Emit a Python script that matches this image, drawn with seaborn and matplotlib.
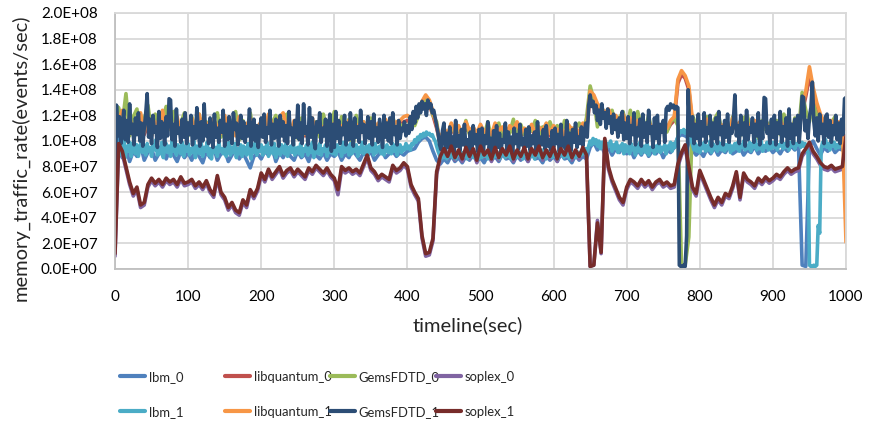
import numpy as np
import pandas as pd
import matplotlib
matplotlib.use("Agg")
import matplotlib.pyplot as plt
from matplotlib.lines import Line2D
from matplotlib.ticker import FuncFormatter
from matplotlib import font_manager
import seaborn as sns

# ---------------- data (values in units of 1e7 events/sec) ----------------
unit = 1e7
time_5s = list(range(0, 1001, 5))   # sampling of most series
time_2s = list(range(0, 1001, 2))   # finer sampling of the two dominant bands

series_names = ["lbm_0", "libquantum_0", "GemsFDTD_0", "soplex_0",
                "lbm_1", "libquantum_1", "GemsFDTD_1", "soplex_1"]
series_colors = ["#4F81BD", "#C0504D", "#9BBB59", "#8064A2",
                 "#4BACC6", "#F79646", "#2C4D75", "#772C2A"]

lbm_0 = [
    12.6, 9.3, 8.7, 9.5, 8.4, 9.2, 8.8, 9.7, 8.5, 9.1, 9.4, 8.5, 9.0, 9.6, 8.6, 9.3, 8.9, 8.4, 9.2, 8.7,
    9.1, 8.5, 9.4, 8.8, 8.3, 9.2, 8.7, 9.5, 8.5, 9.0, 9.3, 8.4, 8.9, 9.4, 8.6, 9.1, 8.5, 7.9, 8.8, 9.0,
    8.6, 9.2, 8.9, 9.5, 8.4, 9.1, 8.7, 9.3, 8.8, 8.5, 9.2, 8.7, 9.0, 8.4, 9.3, 8.9, 8.6, 9.1, 8.5, 9.0,
    8.8, 9.2, 8.5, 9.0, 8.7, 9.3, 8.9, 8.5, 9.1, 8.8, 9.2, 8.5, 8.9, 9.3, 8.7, 9.0, 9.2, 8.8, 9.1, 8.9,
    9.2, 9.3, 9.4, 9.9, 10.2, 10.3, 10.0, 9.2, 8.5, 8.2, 8.6, 8.3, 8.9, 8.4, 8.7, 8.3, 8.8, 8.5, 9.0, 8.4,
    8.7, 8.3, 8.9, 8.5, 8.8, 8.4, 9.0, 8.6, 8.7, 8.3, 8.9, 8.5, 8.8, 8.4, 9.0, 8.6, 8.7, 8.3, 8.9, 8.5,
    8.8, 8.4, 9.0, 8.6, 8.7, 8.3, 8.9, 8.5, 8.8, 8.6, 9.5, 9.9, 9.3, 9.7, 9.0, 9.5, 8.9, 9.4, 9.1, 9.6,
    9.0, 9.4, 8.7, 9.3, 8.9, 9.5, 8.8, 9.2, 9.0, 9.4, 8.7, 9.3, 9.1, 9.5, 10.3, 10.5, 10.4, 10.2, 9.3, 8.9,
    9.2, 8.8, 9.4, 9.0, 9.5, 8.9, 9.3, 9.1, 9.6, 9.0, 9.2, 9.5, 8.9, 9.3, 9.1, 9.6, 9.0, 9.4, 9.2, 9.5,
    9.1, 9.4, 9.0, 9.5, 9.2, 9.6, 9.3, 9.7, 0.3, 0.2, 9.6, 10.0, 9.4, 8.9, 9.5, 9.2, 9.6, 9.1, 9.4, 9.3,
    9.9]

libquantum_0 = [
    11.5, 11.2, 11.8, 10.6, 11.4, 10.9, 11.0, 11.7, 10.5, 11.3, 10.8, 11.1, 10.6, 11.6, 10.9, 11.0, 10.7, 11.4, 10.6, 11.2,
    10.8, 11.4, 10.5, 11.6, 10.7, 11.2, 10.4, 11.3, 10.9, 10.6, 11.5, 10.7, 11.1, 10.5, 11.4, 10.6, 11.0, 11.3, 10.4, 10.9,
    11.1, 10.6, 11.5, 11.0, 10.5, 11.3, 11.6, 10.8, 10.6, 11.2, 10.7, 11.1, 10.4, 10.9, 11.4, 10.5, 11.0, 10.7, 11.1, 10.6,
    11.0, 10.6, 10.9, 10.7, 11.2, 10.4, 11.0, 10.6, 11.1, 10.5, 10.8, 10.7, 11.0, 10.3, 11.2, 10.6, 10.9, 11.1, 11.3, 11.5,
    11.6, 11.4, 11.8, 12.1, 12.6, 13.1, 12.8, 12.0, 11.0, 9.8, 10.8, 10.3, 11.0, 10.5, 10.9, 10.2, 11.1, 10.6, 10.8, 10.4,
    10.9, 10.5, 10.8, 10.3, 11.0, 10.6, 10.8, 10.2, 10.9, 10.7, 11.1, 10.4, 10.8, 10.5, 11.0, 10.3, 10.8, 10.6, 11.0, 10.4,
    10.9, 10.6, 10.8, 10.3, 11.0, 10.7, 10.8, 10.4, 11.0, 10.8, 13.5, 13.2, 12.6, 12.3, 11.9, 12.1, 11.5, 11.7, 11.2, 11.8,
    10.9, 11.4, 10.6, 11.3, 10.8, 10.5, 11.2, 10.8, 11.0, 10.6, 11.1, 10.8, 11.3, 11.6, 14.5, 15.2, 14.9, 14.0, 11.3, 10.8,
    11.1, 10.6, 11.4, 10.9, 10.7, 11.3, 10.8, 11.2, 10.5, 11.5, 10.9, 11.2, 10.7, 11.1, 10.9, 11.3, 10.6, 11.0, 11.2, 10.8,
    11.0, 10.7, 11.3, 10.9, 11.1, 10.6, 11.2, 10.9, 12.2, 13.5, 15.0, 13.8, 12.6, 11.8, 11.1, 10.8, 11.3, 10.9, 11.2, 10.8,
    11.0]

GemsFDTD_0 = [
    12.8, 12.6, 11.4, 13.7, 10.4, 11.9, 12.5, 10.5, 11.7, 12.8, 10.8, 12.1, 10.2, 11.6, 12.7, 10.9, 12.3, 10.6, 11.4, 12.2,
    10.4, 11.9, 10.9, 12.1, 10.2, 11.5, 10.6, 11.8, 12.2, 10.3, 11.7, 10.8, 11.4, 12.3, 10.1, 11.6, 10.7, 12.2, 10.5, 11.2,
    10.6, 11.9, 10.8, 11.4, 12.0, 10.5, 11.6, 12.1, 10.7, 11.3, 10.2, 11.8, 10.6, 11.2, 10.4, 11.5, 10.3, 12.1, 10.9, 11.0,
    12.3, 10.4, 11.9, 10.6, 11.7, 9.2, 12.0, 10.9, 11.5, 10.3, 11.8, 10.7, 11.2, 10.1, 11.6, 10.5, 11.9, 10.8, 11.3, 11.0,
    10.8, 11.9, 11.2, 12.0, 12.8, 13.3, 13.1, 12.0, 11.5, 9.6, 10.9, 10.4, 11.3, 10.6, 11.1, 10.2, 11.6, 10.5, 11.0, 10.3,
    11.2, 10.4, 11.5, 10.2, 10.9, 11.4, 10.3, 11.0, 10.6, 11.7, 10.1, 11.3, 10.5, 11.0, 10.8, 11.6, 10.2, 11.1, 10.4, 11.5,
    10.7, 11.2, 10.3, 11.6, 10.5, 11.0, 10.9, 11.4, 10.6, 11.8, 14.3, 13.2, 11.1, 12.8, 12.0, 11.5, 12.4, 10.9, 11.8, 12.3,
    11.0, 12.4, 10.6, 12.3, 11.2, 10.8, 12.0, 10.5, 11.6, 10.9, 11.4, 10.7, 11.5, 11.8, 11.2, 0.2, 0.3, 2.5, 12.0, 11.2,
    11.3, 10.6, 11.9, 10.4, 11.7, 12.2, 10.8, 11.4, 10.5, 11.9, 11.1, 10.4, 11.8, 12.0, 10.7, 11.3, 10.2, 11.6, 10.9, 11.4,
    10.8, 11.6, 10.5, 12.1, 11.2, 10.4, 11.8, 10.7, 13.8, 12.4, 11.5, 13.0, 12.0, 11.0, 11.7, 10.6, 11.4, 11.9, 10.8, 11.3,
    11.2]

soplex_0 = [
    1.0, 9.6, 9.0, 7.8, 6.6, 5.7, 6.2, 4.8, 5.0, 6.4, 6.9, 6.5, 6.8, 6.4, 6.9, 6.6, 6.8, 6.4, 7.0, 6.5,
    6.6, 6.8, 6.3, 6.6, 6.2, 6.7, 6.0, 5.6, 7.1, 5.8, 5.4, 4.6, 5.0, 4.4, 4.2, 5.2, 4.8, 6.0, 5.5, 6.1,
    7.3, 6.8, 7.6, 7.0, 7.4, 7.8, 7.1, 7.5, 7.7, 7.2, 7.6, 7.3, 7.0, 7.7, 7.4, 7.9, 7.6, 7.3, 7.7, 7.2,
    6.9, 5.8, 7.8, 7.5, 7.7, 7.4, 7.6, 7.3, 8.0, 8.7, 7.7, 7.4, 6.9, 7.2, 7.0, 6.8, 7.9, 7.5, 7.7, 8.1,
    7.8, 6.4, 5.8, 5.3, 2.4, 1.0, 1.1, 2.2, 7.4, 8.6, 9.2, 8.6, 9.4, 8.5, 9.1, 8.4, 9.3, 8.6, 9.2, 8.3,
    9.4, 8.7, 9.1, 8.4, 9.3, 8.5, 9.2, 8.7, 9.4, 8.4, 9.1, 8.6, 9.3, 8.4, 9.2, 8.7, 9.4, 8.5, 9.1, 8.6,
    9.3, 8.4, 9.2, 8.7, 9.4, 8.5, 9.1, 8.6, 9.3, 8.7, 0.2, 0.3, 3.8, 1.2, 10.0, 7.8, 6.8, 6.1, 5.4, 5.0,
    6.2, 6.8, 6.6, 6.3, 6.8, 6.4, 6.7, 6.2, 6.6, 6.8, 6.4, 6.6, 6.3, 6.4, 8.0, 8.9, 9.5, 7.8, 6.2, 5.7,
    7.5, 6.8, 6.1, 5.4, 4.8, 5.4, 5.0, 5.7, 5.5, 6.3, 7.4, 5.4, 7.3, 6.8, 6.6, 6.3, 6.9, 6.6, 7.0, 6.7,
    6.9, 7.2, 7.0, 7.4, 7.7, 7.4, 7.6, 7.7, 8.8, 9.2, 9.7, 9.0, 8.6, 8.1, 7.8, 7.7, 7.9, 7.6, 7.7, 7.8,
    10.2]

lbm_1 = [
    12.8, 10.2, 9.4, 8.9, 9.8, 9.1, 10.0, 8.7, 9.6, 9.2, 9.9, 8.8, 9.5, 10.1, 9.0, 9.7, 8.8, 9.4, 10.0, 9.1, 9.6, 8.9, 9.8, 9.2, 9.5,
    8.8, 9.7, 9.3, 10.1, 8.9, 9.5, 9.0, 9.9, 8.7, 9.4, 9.8, 9.1, 9.6, 8.8, 10.0, 9.2, 9.5, 8.9, 9.7, 9.3, 9.0, 9.9, 8.8, 9.6, 9.2,
    9.8, 8.9, 9.4, 9.1, 10.0, 8.7, 9.6, 9.3, 9.0, 9.8, 8.8, 9.5, 9.2, 9.9, 8.9, 9.4, 8.6, 9.7, 9.1, 9.5, 8.8, 9.9, 9.2, 9.4, 9.0,
    9.6, 8.8, 9.3, 9.9, 8.9, 9.5, 9.1, 9.8, 8.7, 9.4, 9.0, 9.7, 8.8, 9.6, 9.2, 8.9, 9.8, 9.3, 8.6, 9.5, 9.1, 9.9, 8.9, 9.4, 9.2,
    9.7, 8.9, 9.5, 9.1, 9.9, 8.8, 9.4, 9.6, 9.0, 9.8, 8.7, 9.3, 9.5, 8.9, 9.7, 9.2, 9.0, 9.8, 8.8, 9.4, 9.6, 9.1, 9.9, 8.9, 9.3,
    9.5, 9.0, 9.8, 8.8, 9.4, 9.2, 9.7, 8.9, 9.5, 9.1, 9.9, 8.7, 9.3, 9.6, 9.0, 9.8, 8.9, 9.4, 9.2, 9.7, 8.8, 9.5, 9.1, 9.8, 9.0,
    9.4, 8.9, 9.7, 9.2, 9.5, 8.8, 9.9, 9.1, 9.3, 9.6, 8.9, 9.8, 9.0, 9.4, 9.2, 9.7, 8.8, 9.5, 9.1, 9.9, 9.0, 9.3, 9.6, 8.9, 9.7,
    9.2, 9.5, 8.9, 9.8, 9.1, 9.4, 9.6, 9.0, 9.9, 8.9, 9.3, 9.7, 9.1, 9.5, 9.0, 9.8, 9.2, 9.6, 8.9, 9.4, 9.7, 9.1, 9.5, 9.3, 9.8,
    9.4, 9.6, 9.3, 9.8, 9.7, 10.1, 9.9, 10.3, 10.1, 10.5, 10.3, 10.6, 10.4, 10.7, 10.5, 10.6, 10.4, 10.5, 10.2, 10.0, 9.6, 9.2, 8.9, 8.6, 8.9,
    8.7, 9.2, 8.6, 9.0, 8.8, 9.3, 8.7, 9.1, 8.6, 9.0, 8.9, 9.3, 8.7, 9.1, 8.8, 9.2, 8.6, 9.0, 8.9, 9.3, 8.7, 9.1, 8.8, 9.2, 8.6,
    9.0, 8.7, 9.3, 8.8, 9.1, 8.6, 9.2, 8.9, 9.0, 8.7, 9.3, 8.8, 9.1, 8.6, 9.2, 8.9, 9.0, 8.7, 9.3, 8.8, 9.1, 8.6, 9.2, 8.9, 9.0,
    8.7, 9.3, 8.8, 9.1, 8.6, 9.2, 8.9, 9.0, 8.7, 9.3, 8.8, 9.1, 8.6, 9.2, 8.9, 9.0, 8.7, 9.3, 8.8, 9.1, 8.6, 9.2, 8.9, 9.0, 8.7,
    9.2, 8.8, 9.1, 8.6, 9.3, 8.9, 9.0, 8.7, 9.2, 8.8, 9.1, 8.6, 9.3, 8.9, 9.0, 8.7, 9.2, 8.8, 9.1, 8.9, 9.3, 9.0, 9.4, 9.2, 9.6,
    10.0, 9.7, 10.2, 9.8, 10.1, 9.6, 10.0, 9.4, 9.9, 9.5, 10.1, 9.3, 9.8, 9.6, 10.0, 9.2, 9.7, 9.4, 9.9, 9.1, 9.6, 9.3, 9.8, 9.0, 9.7,
    9.2, 9.6, 9.0, 9.8, 9.3, 9.5, 8.9, 9.7, 9.2, 9.9, 9.0, 9.4, 9.6, 9.1, 9.8, 8.9, 9.5, 9.3, 9.7, 9.0, 9.6, 9.2, 9.9, 9.1, 9.5,
    9.3, 9.7, 9.0, 9.6, 9.4, 9.9, 9.2, 9.8, 9.5, 10.0, 10.3, 10.6, 10.8, 10.7, 10.9, 10.6, 10.8, 10.7, 10.4, 10.1, 9.7, 9.3, 9.8, 9.2, 9.6,
    9.1, 9.7, 9.4, 9.9, 9.2, 9.6, 9.3, 10.0, 9.1, 9.8, 9.4, 9.6, 9.2, 9.9, 9.5, 9.3, 10.1, 9.2, 9.7, 9.4, 9.9, 9.1, 9.6, 9.3, 9.8,
    9.4, 9.9, 9.2, 9.7, 9.5, 10.0, 9.3, 9.6, 9.4, 9.9, 9.2, 9.8, 9.5, 10.1, 9.3, 9.7, 9.4, 10.0, 9.2, 9.6, 9.5, 9.9, 9.3, 9.8, 9.4,
    9.9, 9.5, 10.0, 9.3, 9.7, 9.6, 10.1, 9.4, 9.8, 9.5, 10.0, 9.3, 9.9, 9.6, 10.2, 9.4, 9.8, 9.7, 10.0, 9.5, 9.9, 9.6, 9.8, 9.4, 9.1,
    0.3, 0.2, 0.2, 0.3, 0.2, 0.3, 3.4, 2.8, 9.4, 9.9, 9.6, 10.1, 9.5, 9.8, 9.3, 10.0, 9.6, 9.9, 9.4, 9.7, 9.5, 10.1, 9.6, 9.8, 9.4,
    10.2]

libquantum_1 = [
    12.0, 11.6, 12.4, 10.8, 11.9, 10.5, 11.3, 12.2, 10.7, 11.8, 10.4, 11.5, 10.9, 12.4, 10.6, 11.2, 10.8, 11.9, 10.5, 11.4,
    11.0, 11.8, 10.6, 12.1, 10.9, 11.4, 10.3, 11.7, 11.1, 10.6, 12.0, 10.8, 11.5, 10.4, 11.9, 10.7, 11.2, 11.8, 10.5, 11.1,
    11.5, 10.8, 12.1, 11.3, 10.6, 11.8, 12.2, 11.0, 10.7, 11.6, 10.9, 11.4, 10.5, 11.2, 11.8, 10.6, 11.3, 10.9, 11.5, 10.8,
    11.4, 10.7, 11.2, 10.9, 11.6, 10.5, 11.3, 10.8, 11.5, 10.6, 11.1, 10.9, 11.4, 10.4, 11.7, 10.8, 11.2, 11.5, 11.6, 11.9,
    12.0, 11.7, 12.2, 12.5, 13.1, 13.6, 13.2, 12.3, 11.2, 10.0, 11.0, 10.5, 11.4, 10.7, 11.2, 10.4, 11.5, 10.8, 11.1, 10.6,
    11.3, 10.7, 11.0, 10.5, 11.4, 10.8, 11.1, 10.4, 11.2, 10.9, 11.5, 10.6, 11.0, 10.7, 11.3, 10.5, 11.1, 10.8, 11.4, 10.6,
    11.2, 10.8, 11.0, 10.5, 11.3, 10.9, 11.1, 10.6, 11.4, 11.0, 13.9, 13.6, 12.9, 12.6, 12.2, 12.5, 11.8, 12.0, 11.5, 12.1,
    11.2, 11.8, 10.9, 11.6, 11.1, 10.7, 11.5, 11.0, 11.3, 10.8, 11.4, 11.0, 11.6, 11.9, 14.8, 15.5, 15.1, 14.3, 11.6, 11.0,
    11.4, 10.8, 11.7, 11.2, 10.9, 11.6, 11.0, 11.5, 10.7, 11.8, 11.2, 11.5, 10.9, 11.4, 11.1, 11.6, 10.8, 11.3, 11.5, 11.0,
    11.3, 10.9, 11.6, 11.1, 11.4, 10.8, 11.5, 11.2, 12.5, 13.9, 15.8, 14.2, 13.0, 12.1, 11.4, 11.0, 11.6, 11.2, 11.5, 11.1,
    2.1]

GemsFDTD_1 = [
    2.6, 12.8, 10.4, 11.9, 9.8, 11.2, 12.4, 10.1, 11.6, 9.9, 12.9, 10.6, 11.3, 9.7, 11.8, 10.5, 12.2, 10.0, 11.4, 9.6, 11.0, 12.1, 13.7, 10.3, 11.7,
    9.8, 12.0, 10.7, 11.1, 9.5, 12.3, 10.2, 11.5, 10.8, 9.7, 11.9, 10.4, 13.3, 13.2, 10.1, 11.3, 9.6, 12.5, 10.6, 11.0, 9.9, 11.7, 10.3, 12.2, 9.8,
    11.4, 10.5, 12.0, 9.7, 11.1, 10.2, 12.6, 10.8, 9.6, 11.5, 10.0, 12.9, 10.4, 11.2, 9.8, 11.8, 10.6, 9.5, 12.1, 10.3, 11.0, 9.9, 11.6, 10.7, 12.4,
    9.6, 11.3, 10.1, 11.9, 10.5, 9.8, 12.2, 10.9, 11.4, 9.7, 10.6, 12.0, 10.2, 11.5, 9.9, 11.1, 10.4, 12.5, 9.6, 10.8, 11.7, 10.0, 11.2, 9.5, 10.9,
    11.8, 10.3, 12.1, 9.9, 11.0, 10.6, 12.4, 9.7, 11.3, 10.2, 11.7, 10.8, 9.6, 12.0, 10.4, 11.5, 10.0, 11.2, 9.8, 12.3, 10.5, 11.0, 9.7, 11.6, 10.3,
    12.8, 10.1, 11.4, 9.8, 12.9, 10.6, 11.1, 9.7, 12.6, 10.3, 11.8, 10.0, 9.4, 11.5, 10.7, 12.2, 9.9, 11.0, 10.4, 11.7, 9.6, 10.9, 12.1, 9.2, 11.3,
    9.5, 12.3, 10.2, 11.6, 9.8, 11.0, 10.5, 12.0, 9.7, 11.4, 10.1, 12.2, 10.6, 9.6, 11.8, 10.3, 11.1, 9.9, 12.4, 10.7, 11.3, 9.8, 10.6, 11.9, 10.2,
    11.5, 9.7, 12.1, 10.4, 11.0, 9.9, 11.7, 10.6, 9.5, 12.0, 10.3, 11.4, 10.0, 11.8, 9.8, 12.2, 10.5, 11.1, 9.7, 11.6, 10.2, 11.0, 10.8, 11.5, 10.4,
    11.2, 10.6, 11.9, 10.9, 12.3, 11.4, 12.7, 11.8, 12.9, 12.2, 13.1, 12.5, 12.9, 12.0, 13.2, 12.6, 12.9, 12.2, 12.4, 11.8, 11.2, 10.6, 9.7, 9.3, 10.8,
    11.4, 9.2, 10.6, 9.5, 11.1, 9.8, 10.3, 9.1, 11.6, 9.6, 10.4, 9.3, 10.9, 9.7, 11.3, 9.4, 10.1, 9.0, 10.7, 9.5, 11.2, 9.8, 10.5, 9.2, 10.9,
    9.6, 11.0, 9.3, 10.4, 9.8, 11.5, 9.4, 10.2, 9.1, 10.8, 9.7, 11.2, 9.5, 10.6, 9.2, 10.1, 9.9, 11.4, 9.3, 10.7, 9.6, 10.3, 9.0, 11.0, 9.8,
    10.5, 9.4, 11.3, 9.7, 10.2, 9.2, 10.9, 9.6, 11.1, 9.3, 10.4, 9.8, 10.7, 9.1, 11.5, 9.5, 10.3, 9.7, 10.9, 9.4, 11.2, 9.6, 10.1, 9.3, 10.8,
    9.5, 11.0, 9.8, 10.5, 9.2, 11.3, 9.6, 10.2, 9.4, 11.6, 9.7, 10.6, 9.3, 10.9, 9.9, 11.4, 9.5, 10.3, 9.8, 11.1, 9.6, 10.7, 11.4, 10.3, 12.8,
    13.6, 12.7, 13.1, 12.2, 12.8, 11.6, 12.4, 11.3, 12.9, 11.8, 12.2, 11.0, 12.5, 11.4, 11.9, 10.6, 12.1, 10.9, 11.6, 10.3, 11.8, 10.7, 12.3, 10.1, 11.4,
    10.2, 11.9, 9.8, 11.2, 10.5, 12.2, 9.7, 11.0, 10.4, 11.7, 9.6, 12.1, 10.3, 11.4, 9.9, 12.4, 10.6, 11.1, 9.5, 11.8, 10.2, 12.0, 9.8, 11.3, 10.7,
    11.6, 9.9, 12.5, 12.7, 12.4, 12.9, 12.6, 12.8, 12.5, 12.7, 12.6, 0.3, 0.2, 0.2, 0.3, 0.2, 2.6, 14.0, 11.2, 10.4, 11.9, 9.8, 11.3, 10.2, 12.1,
    9.7, 11.5, 10.4, 12.2, 9.9, 11.0, 10.6, 12.0, 9.6, 11.4, 10.2, 11.8, 9.8, 12.3, 10.5, 11.1, 9.7, 11.6, 10.3, 12.1, 9.9, 11.0, 10.6, 11.7, 13.6,
    10.4, 11.2, 9.8, 12.0, 10.5, 11.4, 9.6, 12.4, 10.1, 11.0, 10.7, 11.8, 9.9, 11.3, 10.4, 12.2, 9.7, 11.5, 10.2, 13.4, 13.3, 10.6, 11.1, 9.8, 11.7,
    10.3, 12.0, 9.7, 11.4, 10.6, 12.3, 9.9, 11.1, 10.4, 11.8, 9.6, 12.5, 10.2, 11.3, 9.8, 11.7, 10.5, 12.0, 9.9, 11.5, 13.5, 13.4, 10.8, 11.6, 10.2,
    11.9, 12.6, 14.6, 11.5, 10.4, 11.8, 10.0, 12.1, 10.6, 11.3, 9.8, 11.9, 12.1, 10.3, 11.6, 9.9, 11.2, 10.5, 12.0, 10.1, 11.4, 9.8, 11.7, 10.5, 13.3,
    13.4]

soplex_1 = [
    1.2, 9.8, 9.2, 8.0, 6.8, 5.9, 6.4, 5.0, 5.2, 6.6, 7.1, 6.7, 7.0, 6.6, 7.1, 6.8, 7.0, 6.6, 7.2, 6.7,
    6.8, 7.0, 6.5, 6.8, 6.4, 6.9, 6.2, 5.8, 7.3, 6.0, 5.6, 4.8, 5.2, 4.6, 4.4, 5.4, 5.0, 6.2, 5.7, 6.3,
    7.5, 7.0, 7.8, 7.2, 7.6, 8.0, 7.3, 7.7, 7.9, 7.4, 7.8, 7.5, 7.2, 7.9, 7.6, 8.1, 7.8, 7.5, 7.9, 7.4,
    7.1, 6.2, 8.0, 7.7, 7.9, 7.6, 7.8, 7.5, 8.2, 8.9, 7.9, 7.6, 7.1, 7.4, 7.2, 7.0, 8.1, 7.7, 7.9, 8.3,
    8.0, 6.6, 6.0, 5.5, 2.6, 1.2, 1.3, 2.4, 7.6, 8.8, 9.4, 8.8, 9.6, 8.7, 9.3, 8.6, 9.5, 8.8, 9.4, 8.5,
    9.6, 8.9, 9.3, 8.6, 9.5, 8.7, 9.4, 8.9, 9.6, 8.6, 9.3, 8.8, 9.5, 8.6, 9.4, 8.9, 9.6, 8.7, 9.3, 8.8,
    9.5, 8.6, 9.4, 8.9, 9.6, 8.7, 9.3, 8.8, 9.5, 8.9, 0.2, 0.3, 3.6, 1.3, 10.2, 8.0, 7.0, 6.3, 5.6, 5.2,
    6.4, 7.0, 6.8, 6.5, 7.0, 6.6, 6.9, 6.4, 6.8, 7.0, 6.6, 6.8, 6.5, 6.6, 8.2, 9.1, 9.7, 8.0, 6.4, 5.9,
    7.7, 7.0, 6.3, 5.6, 5.0, 5.6, 5.2, 5.9, 5.7, 6.5, 7.6, 5.6, 7.5, 7.0, 6.8, 6.5, 7.1, 6.8, 7.2, 6.9,
    7.1, 7.4, 7.2, 7.6, 7.9, 7.6, 7.8, 7.9, 9.0, 9.4, 9.9, 9.2, 8.8, 8.3, 8.0, 7.9, 8.1, 7.8, 7.9, 8.0,
    10.4]

series_values = [lbm_0, libquantum_0, GemsFDTD_0, soplex_0,
                 lbm_1, libquantum_1, GemsFDTD_1, soplex_1]
series_times = [time_5s, time_5s, time_5s, time_5s,
                time_2s, time_5s, time_2s, time_5s]

y_ticks = [i * 2e7 for i in range(11)]
x_ticks = list(range(0, 1001, 100))

# ---------------- build long table ----------------
frames = []
for name, tt, vals in zip(series_names, series_times, series_values):
    assert len(vals) == len(tt), (name, len(vals), len(tt))
    frames.append(pd.DataFrame({"timeline": tt,
                                "rate": np.asarray(vals) * unit,
                                "series": name}))
df = pd.concat(frames, ignore_index=True)
palette = dict(zip(series_names, series_colors))

# ---------------- fonts ----------------
sns.set_theme(style="white")
plt.rcParams["font.family"] = ["Lato", "DejaVu Sans"]
avail = {f.name for f in font_manager.fontManager.ttflist}
if "Liberation Sans Narrow" in avail:
    LEG_FAMILY, LEG_FS = ["Liberation Sans Narrow", "DejaVu Sans"], 10.5
else:
    LEG_FAMILY, LEG_FS = ["Lato", "DejaVu Sans"], 9.4
TICK_FS = 11
LABEL_FS = 14.5

# ---------------- plot ----------------
W, H = 869, 428
fig = plt.figure(figsize=(W / 100, H / 100), dpi=100)
ax = fig.add_axes([115 / W, 1 - 269 / H, 731 / W, 256 / H])

sns.lineplot(data=df, x="timeline", y="rate", hue="series",
             hue_order=series_names, palette=palette, linewidth=2.6,
             estimator=None, sort=False, legend=False, ax=ax)

ax.set_xlim(0, 1000)
ax.set_ylim(0, 2e8)
ax.set_xticks(x_ticks)
ax.set_yticks(y_ticks)
ax.yaxis.set_major_formatter(FuncFormatter(lambda v, p: "{:.1E}".format(v)))
ax.tick_params(axis="both", length=0, labelsize=TICK_FS, colors="black")
ax.tick_params(axis="y", pad=12.5)
ax.tick_params(axis="x", pad=15)
ax.grid(True, color="#D9D9D9", linewidth=1.3)
ax.set_axisbelow(True)
for side in ["top", "right"]:
    ax.spines[side].set_color("#D9D9D9")
    ax.spines[side].set_linewidth(1.3)
for side in ["left", "bottom"]:
    ax.spines[side].set_color("#BFBFBF")
    ax.spines[side].set_linewidth(1.3)

ax.set_xlabel("timeline(sec)", fontsize=LABEL_FS)
ax.set_ylabel("memory_traffic_rate(events/sec)", fontsize=LABEL_FS)
ax.xaxis.set_label_coords((468 - 115) / 731, -0.185)
ax.yaxis.set_label_coords(-0.117, 0.434)

# legend: four columns of two entries
col_x = [120, 225, 330, 436]
for c in range(4):
    names = [series_names[c], series_names[c + 4]]
    handles = [Line2D([], [], color=palette[n], linewidth=3) for n in names]
    fig.legend(handles, names, loc="upper left",
               bbox_to_anchor=(col_x[c] / W, 1 - 371 / H),
               frameon=False, prop={"family": LEG_FAMILY, "size": LEG_FS},
               handlelength=1.95, handletextpad=0.25, labelspacing=1.75,
               borderpad=0, borderaxespad=0)

fig.savefig("out.png", dpi=100, facecolor="white")
